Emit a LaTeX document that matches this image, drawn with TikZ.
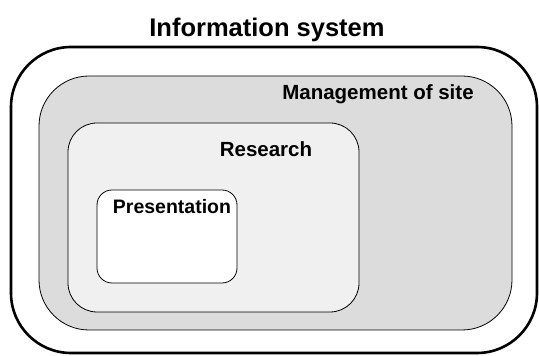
\documentclass[tikz,border=0pt]{standalone}
\usepackage{fontspec}
\setmainfont{Liberation Sans}
\usepackage{tikz}
\definecolor{sitegray}{RGB}{220,220,220}
\definecolor{researchgray}{RGB}{240,240,240}

\begin{document}
\begin{tikzpicture}[x=1pt,y=1pt,
        layer/.style={draw, rounded corners=#1, inner sep=0pt},
        title/.style={anchor=base, font=\bfseries\fontsize{20.5}{24}\selectfont}]
        \useasboundingbox (0,0) rectangle (539,356);
        % Information system
        \node[layer=60pt, line width=2.6pt, minimum width=526pt, minimum height=306pt] (info) at (274,156) {};
        \node[title, font=\bfseries\fontsize{25.5}{30}\selectfont] (infolabel) at (267,319) {Information system};
        % Management of site
        \node[layer=50pt, fill=sitegray, line width=0.8pt, minimum width=473pt, minimum height=254pt] (site) at (275.5,153) {};
        \node[title] (sitelabel) at (378,256) {Management of site};
        % Research
        \node[layer=29pt, fill=researchgray, line width=0.8pt, minimum width=291pt, minimum height=189pt] (research) at (213.5,138.5) {};
        \node[title] (researchlabel) at (266,199) {Research};
        % Presentation
        \node[layer=15pt, fill=white, line width=0.8pt, minimum width=140pt, minimum height=93pt] (present) at (167,119.5) {};
        \node[title, font=\bfseries\fontsize{19.5}{23}\selectfont] (presentlabel) at (172,142) {Presentation};
    \end{tikzpicture}
\end{document}
